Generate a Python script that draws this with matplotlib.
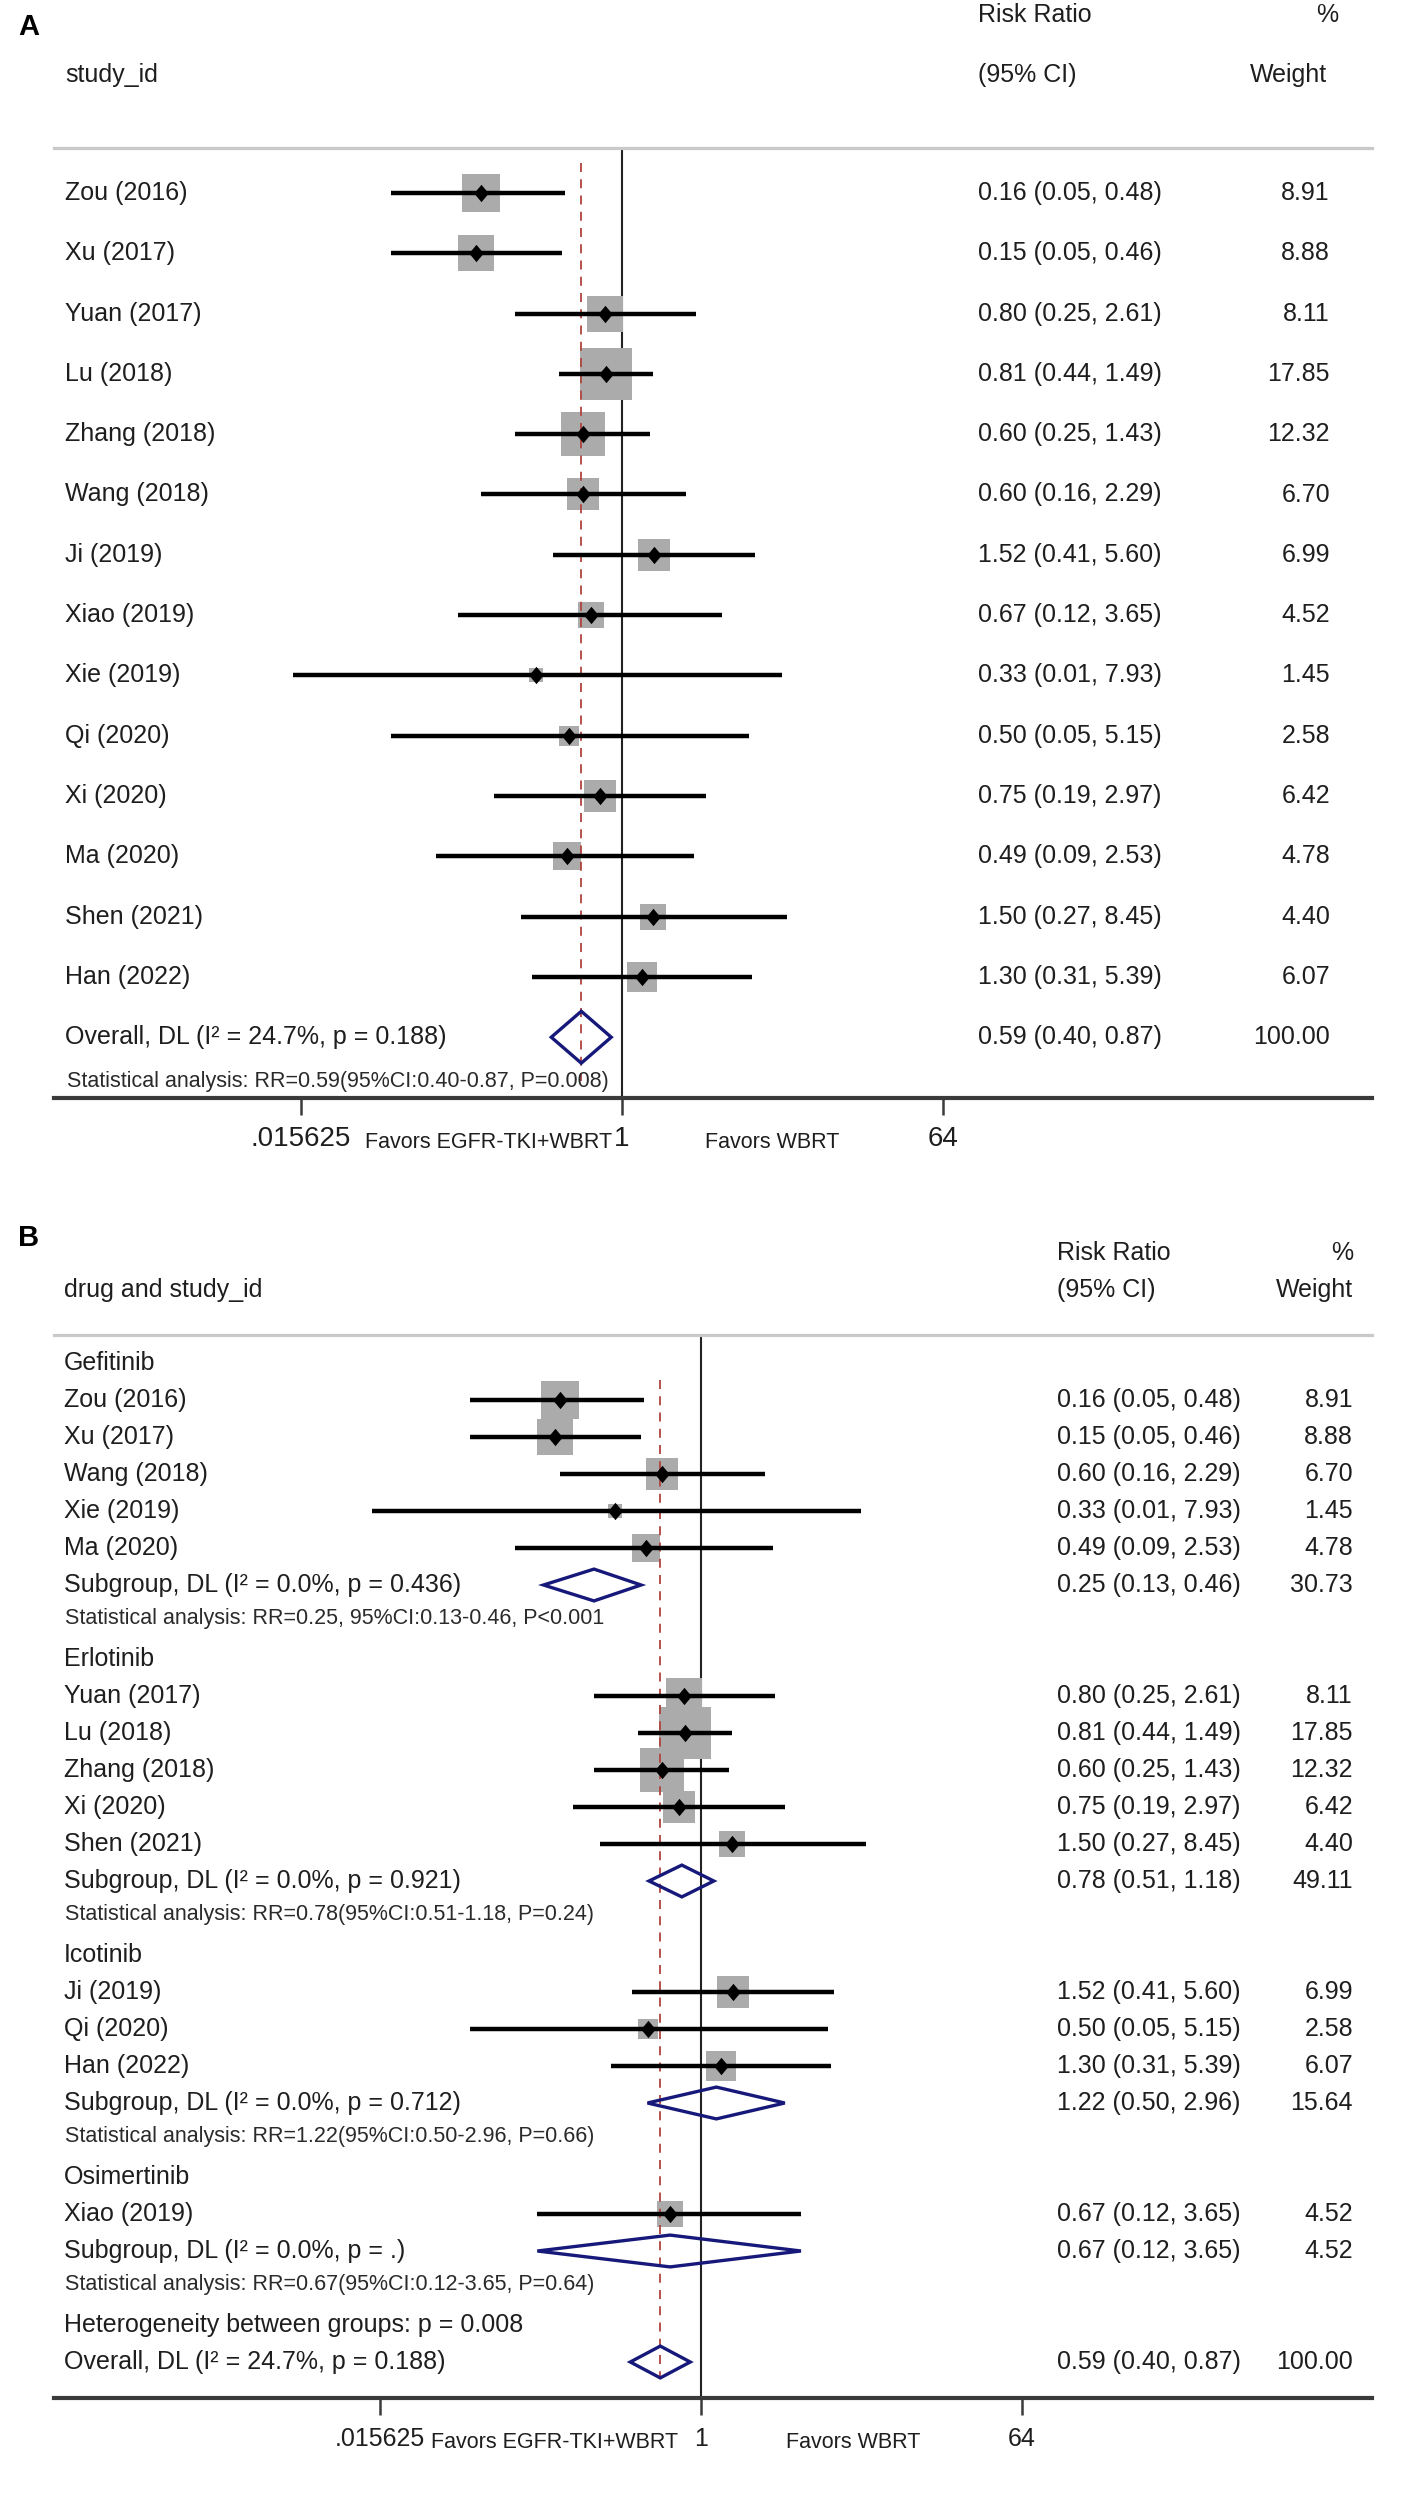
import matplotlib
matplotlib.use('Agg')
import matplotlib.pyplot as plt
import matplotlib.transforms as mtransforms
from matplotlib.patches import Polygon

plt.rcParams['font.family'] = ['Liberation Sans', 'DejaVu Sans']

# ---------------- data ----------------
studies = ['Zou (2016)', 'Xu (2017)', 'Yuan (2017)', 'Lu (2018)', 'Zhang (2018)',
           'Wang (2018)', 'Ji (2019)', 'Xiao (2019)', 'Xie (2019)', 'Qi (2020)',
           'Xi (2020)', 'Ma (2020)', 'Shen (2021)', 'Han (2022)']
rr = [0.16, 0.15, 0.80, 0.81, 0.60, 0.60, 1.52, 0.67, 0.33, 0.50, 0.75, 0.49, 1.50, 1.30]
lo = [0.05, 0.05, 0.25, 0.44, 0.25, 0.16, 0.41, 0.12, 0.014, 0.05, 0.19, 0.09, 0.27, 0.31]
hi = [0.48, 0.46, 2.61, 1.49, 1.43, 2.29, 5.60, 3.65, 7.93, 5.15, 2.97, 2.53, 8.45, 5.39]
weight = [8.91, 8.88, 8.11, 17.85, 12.32, 6.70, 6.99, 4.52, 1.45, 2.58, 6.42, 4.78, 4.40, 6.07]
drug = ['Gefitinib', 'Gefitinib', 'Erlotinib', 'Erlotinib', 'Erlotinib', 'Gefitinib',
        'Icotinib', 'Osimertinib', 'Gefitinib', 'Icotinib', 'Erlotinib', 'Gefitinib',
        'Erlotinib', 'Icotinib']

groups = ['Gefitinib', 'Erlotinib', 'Icotinib', 'Osimertinib']
sub_rr = [0.25, 0.78, 1.22, 0.67]
sub_lo = [0.13, 0.51, 0.50, 0.12]
sub_hi = [0.46, 1.18, 2.96, 3.65]
sub_w = [30.73, 49.11, 15.64, 4.52]
sub_i2 = ['0.0%', '0.0%', '0.0%', '0.0%']
sub_p = ['0.436', '0.921', '0.712', '.']
sub_stat = ['Statistical analysis: RR=0.25, 95%CI:0.13-0.46, P<0.001',
            'Statistical analysis: RR=0.78(95%CI:0.51-1.18, P=0.24)',
            'Statistical analysis: RR=1.22(95%CI:0.50-2.96, P=0.66)',
            'Statistical analysis: RR=0.67(95%CI:0.12-3.65, P=0.64)']

overall_rr, overall_lo, overall_hi, overall_w = 0.59, 0.40, 0.87, 100.00
overall_i2, overall_p = '24.7%', '0.188'
overall_stat = 'Statistical analysis: RR=0.59(95%CI:0.40-0.87, P=0.008)'
het_between_p = '0.008'

tick_vals = [1 / 64, 1, 64]
tick_labels = ['.015625', '1', '64']
favors_left = 'Favors EGFR-TKI+WBRT'
favors_right = 'Favors WBRT'

# ---------------- layout (pixels) ----------------
W, H, DPI = 1406, 2519, 100
L, R = 54, 1372
UNIT = 53.5          # pixels per log2 unit
TXT = '#1e1e1e'
BOX = '#ababab'
NAVY = '#16197a'
RED = '#b0443f'

fig = plt.figure(figsize=(W / DPI, H / DPI), dpi=DPI)
fig.patch.set_facecolor('white')

diamond_marker = [(0, 1), (0.84, 0), (0, -1), (-0.84, 0), (0, 1)]


def make_axes(top_px, bottom_px, one_px, row0_px, row_px):
    ax = fig.add_axes([L / W, 1 - bottom_px / H, (R - L) / W, (bottom_px - top_px) / H])
    ax.set_xscale('log', base=2)
    ax.set_xlim(2 ** ((L - one_px) / UNIT), 2 ** ((R - one_px) / UNIT))
    ax.set_ylim((bottom_px - row0_px) / row_px, (top_px - row0_px) / row_px)
    ax.set_facecolor('none')
    for s in ('left', 'right'):
        ax.spines[s].set_visible(False)
    ax.spines['top'].set_color('#c9c9c9')
    ax.spines['top'].set_linewidth(2.3)
    ax.spines['bottom'].set_color('#3a3a3a')
    ax.spines['bottom'].set_linewidth(3.0)
    ax.yaxis.set_visible(False)
    ax.xaxis.set_minor_locator(matplotlib.ticker.NullLocator())
    ax.set_xticks(tick_vals)
    ax.set_xticklabels(tick_labels)
    ax.axvline(1, color='#222222', lw=1.5, zorder=2)
    trans = mtransforms.blended_transform_factory(fig.transFigure, ax.transData)
    return ax, trans


def draw_study(ax, y, r, l, h, w):
    ax.scatter([r], [y], s=79.7 * w, marker='s', color=BOX, linewidths=0, zorder=3)
    ax.plot([l, h], [y, y], color='black', lw=3.2, solid_capstyle='butt', zorder=4)
    ax.plot([r], [y], marker=diamond_marker, markersize=12.5, color='black',
            markeredgewidth=0, zorder=5)


def draw_pooled(ax, y, r, l, h, half):
    poly = Polygon([(l, y), (r, y - half), (h, y), (r, y + half)], closed=True,
                   facecolor='none', edgecolor=NAVY, lw=2.4, zorder=4)
    ax.add_patch(poly)


def ax_text(trans, xpx, y, s, fs, ha, **kw):
    fig.text(xpx / W, y, s, transform=trans, fontsize=fs, ha=ha, va='center',
             color=kw.pop('color', TXT), **kw)


def right_cols(trans, y, r, l, h, w, ci_x, w_x, fs):
    ax_text(trans, ci_x, y, f'{r:.2f} ({l:.2f}, {h:.2f})', fs, 'left')
    ax_text(trans, w_x, y, f'{w:.2f}', fs, 'right')


FS = 18
FS_STAT = 15.5
FS_FAV = 15.5

# ================= Panel A =================
axA, tA = make_axes(148, 1098, 622, 193, 60.3)
fig.text(18 / W, 1 - 27 / H, 'A', fontsize=21, fontweight='bold', ha='left', va='center',
         color='black')
ax_text(tA, 65, -1.96, 'study_id', FS, 'left')
ax_text(tA, 978, -2.95, 'Risk Ratio', FS, 'left')
ax_text(tA, 978, -1.96, '(95% CI)', FS, 'left')
ax_text(tA, 1338, -2.95, '%', FS, 'right')
ax_text(tA, 1327, -1.96, 'Weight', FS, 'right')

for i, name in enumerate(studies):
    draw_study(axA, i, rr[i], lo[i], hi[i], weight[i])
    ax_text(tA, 65, i, name, FS, 'left')
    right_cols(tA, i, rr[i], lo[i], hi[i], weight[i], 978, 1330, FS)

yo = len(studies)
draw_pooled(axA, yo, overall_rr, overall_lo, overall_hi, 0.43)
ax_text(tA, 65, yo, f'Overall, DL (I\u00b2 = {overall_i2}, p = {overall_p})', FS, 'left')
right_cols(tA, yo, overall_rr, overall_lo, overall_hi, overall_w, 978, 1330, FS)
ax_text(tA, 67, yo + 0.73, overall_stat, FS_STAT, 'left', color='#2a2a2a')
axA.vlines(overall_rr, -0.5, yo + 0.72, colors=RED, lw=1.3, linestyles=(0, (5, 4)), zorder=3)

axA.tick_params(axis='x', which='major', length=12, width=1.8, color='#3a3a3a',
                labelsize=20, pad=8, labelcolor=TXT)
axA.annotate(favors_left, xy=(1, 0), xycoords=('data', 'axes fraction'),
             xytext=(-7, -32.4), textcoords='offset points', ha='right', va='center',
             fontsize=FS_FAV, color=TXT)
axA.annotate(favors_right, xy=(1, 0), xycoords=('data', 'axes fraction'),
             xytext=(60, -32.4), textcoords='offset points', ha='left', va='center',
             fontsize=FS_FAV, color=TXT)

# ================= Panel B =================
axB, tB = make_axes(1335, 2398, 701, 1363, 37.0)
fig.text(18 / W, 1 - 1238 / H, 'B', fontsize=21, fontweight='bold', ha='left', va='center',
         color='black')
ax_text(tB, 64, -1.97, 'drug and study_id', FS, 'left')
ax_text(tB, 1057, -2.97, 'Risk Ratio', FS, 'left')
ax_text(tB, 1057, -1.97, '(95% CI)', FS, 'left')
ax_text(tB, 1353, -2.97, '%', FS, 'right')
ax_text(tB, 1353, -1.97, 'Weight', FS, 'right')

row = 0
for g, gname in enumerate(groups):
    ax_text(tB, 64, row, gname, FS, 'left')
    row += 1
    for i, name in enumerate(studies):
        if drug[i] != gname:
            continue
        draw_study(axB, row, rr[i], lo[i], hi[i], weight[i])
        ax_text(tB, 64, row, name, FS, 'left')
        right_cols(tB, row, rr[i], lo[i], hi[i], weight[i], 1057, 1353, FS)
        row += 1
    draw_pooled(axB, row, sub_rr[g], sub_lo[g], sub_hi[g], 0.43)
    ax_text(tB, 64, row, f'Subgroup, DL (I\u00b2 = {sub_i2[g]}, p = {sub_p[g]})', FS, 'left')
    right_cols(tB, row, sub_rr[g], sub_lo[g], sub_hi[g], sub_w[g], 1057, 1353, FS)
    ax_text(tB, 65, row + 0.9, sub_stat[g], FS_STAT, 'left', color='#2a2a2a')
    row += 2

ax_text(tB, 64, row, f'Heterogeneity between groups: p = {het_between_p}', FS, 'left')
row += 1
draw_pooled(axB, row, overall_rr, overall_lo, overall_hi, 0.43)
ax_text(tB, 64, row, f'Overall, DL (I\u00b2 = {overall_i2}, p = {overall_p})', FS, 'left')
right_cols(tB, row, overall_rr, overall_lo, overall_hi, overall_w, 1057, 1353, FS)
axB.vlines(overall_rr, 0.46, row + 0.46, colors=RED, lw=1.3, linestyles=(0, (5, 4)), zorder=3)

axB.tick_params(axis='x', which='major', length=12, width=1.8, color='#3a3a3a',
                labelsize=18, pad=9, labelcolor=TXT)
axB.annotate(favors_left, xy=(1, 0), xycoords=('data', 'axes fraction'),
             xytext=(-16.5, -31.7), textcoords='offset points', ha='right', va='center',
             fontsize=FS_FAV, color=TXT)
axB.annotate(favors_right, xy=(1, 0), xycoords=('data', 'axes fraction'),
             xytext=(61, -31.7), textcoords='offset points', ha='left', va='center',
             fontsize=FS_FAV, color=TXT)

fig.savefig('out.png', dpi=DPI, facecolor='white')
